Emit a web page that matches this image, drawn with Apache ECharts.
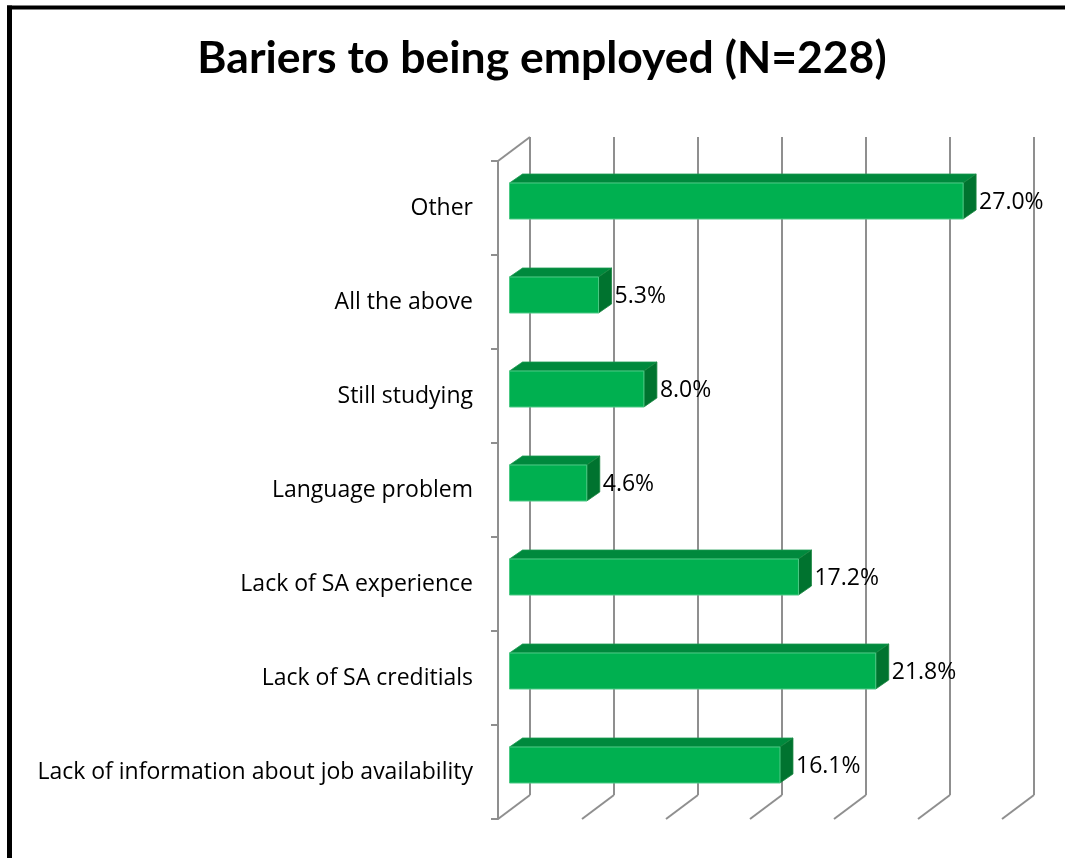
<!DOCTYPE html>
<html>
<head>
<meta charset="utf-8">
<title>Bariers to being employed</title>
<script src="https://cdn.jsdelivr.net/npm/echarts@6/dist/echarts.min.js"></script>
<style>
  html, body { margin: 0; padding: 0; background: #ffffff; }
  #chart { width: 1065px; height: 858px; }
</style>
</head>
<body>
<div id="chart"></div>
<script>
// Survey answers, top to bottom
const categories = [
  'Other',
  'All the above',
  'Still studying',
  'Language problem',
  'Lack of SA experience',
  'Lack of SA creditials',
  'Lack of information about job availability'
];
// Share of respondents (%)
const values = [27.0, 5.3, 8.0, 4.6, 17.2, 21.8, 16.1];
// Value-axis gridline positions (%)
const gridTicks = [0, 5, 10, 15, 20, 25, 30];

const TEXT_FONT = '"Open Sans", "Noto Sans", sans-serif';
const TITLE_FONT = 'Lato, "Open Sans", sans-serif';
const DEPTH = [32, -24];      // floor front edge -> back wall
const BAR_SHIFT = [11.5, -7]; // floor front edge -> bar front face
const BAR_DEPTH = [13, -9];   // bar front face -> bar back face
const BAR_H = 36;

const chart = echarts.init(document.getElementById('chart'), null, { renderer: 'canvas' });

// Back wall verticals and floor diagonals of the 3-D frame
function renderWalls(params, api) {
  const cs = params.coordSys;
  const v = api.value(0);
  const x = api.coord([v, categories[0]])[0];
  const top = cs.y, bottom = cs.y + cs.height;
  const style = { stroke: '#8f8f8f', lineWidth: 2, fill: null };
  const children = [
    { type: 'line', shape: { x1: x + DEPTH[0], y1: top + DEPTH[1], x2: x + DEPTH[0], y2: bottom + DEPTH[1] }, style },
    { type: 'line', shape: { x1: x, y1: bottom, x2: x + DEPTH[0], y2: bottom + DEPTH[1] }, style }
  ];
  if (v === 0) {
    children.push({ type: 'line', shape: { x1: x, y1: top, x2: x + DEPTH[0], y2: top + DEPTH[1] }, style });
  }
  return { type: 'group', children };
}

// 3-D bar: front face, top face, right side face and value label
function renderBar(params, api) {
  const v = api.value(0);
  const cat = api.value(1);
  const p0 = api.coord([0, cat]);
  const p1 = api.coord([v, cat]);
  const x0 = p0[0] + BAR_SHIFT[0];
  const x1 = p1[0] + BAR_SHIFT[0];
  const cy = p0[1] + BAR_SHIFT[1];
  const y0 = cy - BAR_H / 2, y1 = cy + BAR_H / 2;
  const dx = BAR_DEPTH[0], dy = BAR_DEPTH[1];
  return {
    type: 'group',
    children: [
      { type: 'polygon', shape: { points: [[x0, y0], [x1, y0], [x1 + dx, y0 + dy], [x0 + dx, y0 + dy]] },
        style: { fill: '#00893d', stroke: '#1b9a50', lineWidth: 0.8 } },
      { type: 'polygon', shape: { points: [[x1, y0], [x1 + dx, y0 + dy], [x1 + dx, y1 + dy], [x1, y1]] },
        style: { fill: '#00732f', stroke: '#1a8640', lineWidth: 0.8 } },
      { type: 'rect', shape: { x: x0, y: y0, width: x1 - x0, height: y1 - y0 },
        style: { fill: '#00b050', stroke: '#4cc985', lineWidth: 1 } },
      { type: 'text', x: x1 + dx + 3, y: cy + 1,
        style: { text: v.toFixed(1) + '%', fill: '#000000', font: '23px ' + TEXT_FONT, textAlign: 'left', textVerticalAlign: 'middle' } }
    ]
  };
}

const option = {
  backgroundColor: '#ffffff',
  animation: false,
  title: {
    text: 'Bariers to being employed (N=228)',
    left: 537,
    top: 31,
    textAlign: 'center',
    textStyle: { fontFamily: TITLE_FONT, fontWeight: 'bold', fontSize: 44.5, color: '#000000' }
  },
  grid: { left: 498, top: 161, width: 504, height: 658, containLabel: false },
  xAxis: {
    type: 'value', min: 0, max: 30, interval: 5,
    axisLine: { show: false }, axisTick: { show: false },
    axisLabel: { show: false }, splitLine: { show: false }
  },
  yAxis: {
    type: 'category',
    data: categories,
    inverse: true,
    axisLine: { show: true, lineStyle: { color: '#8f8f8f', width: 2 } },
    axisTick: { show: true, length: 7, lineStyle: { color: '#8f8f8f', width: 2 } },
    axisLabel: { margin: 25, color: '#000000', fontFamily: TEXT_FONT, fontSize: 23, padding: [6, 0, 0, 0] },
    splitLine: { show: false }
  },
  graphic: [
    { type: 'line', shape: { x1: 7, y1: 7.5, x2: 1065, y2: 7.5 }, style: { stroke: '#000000', lineWidth: 4 }, z: 100 },
    { type: 'line', shape: { x1: 9.5, y1: 5.5, x2: 9.5, y2: 858 }, style: { stroke: '#000000', lineWidth: 5 }, z: 100 }
  ],
  series: [
    {
      type: 'custom',
      name: 'walls',
      renderItem: renderWalls,
      data: gridTicks.map(v => [v]),
      encode: { x: 0 },
      silent: true,
      z: 1
    },
    {
      type: 'custom',
      name: 'Share',
      renderItem: renderBar,
      data: values.map((v, i) => [v, categories[i]]),
      encode: { x: 0, y: 1 },
      z: 5
    }
  ]
};

chart.setOption(option);
</script>
</body>
</html>
